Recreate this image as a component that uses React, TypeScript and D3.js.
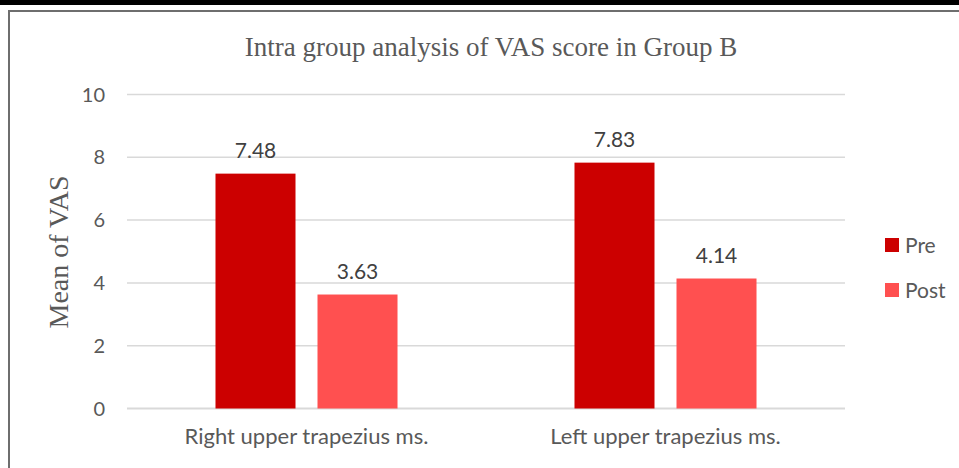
import React, { useEffect, useRef } from 'react';
import * as d3 from 'd3';

const categories = ['Right upper trapezius ms.', 'Left upper trapezius ms.'];
const seriesNames = ['Pre', 'Post'];
const preValues = [7.48, 7.83];
const postValues = [3.63, 4.14];
const yTicks = [0, 2, 4, 6, 8, 10];
const colors = ['#CC0000', '#FF5050'];

const W = 959;
const H = 468;

const App = () => {
  const svgRef = useRef<SVGSVGElement>(null);

  useEffect(() => {
    const svg = d3.select(svgRef.current);
    svg.selectAll('*').remove();

    const left = 127, right = 845, top = 94.5, bottom = 408.5;
    const sans = 'Lato, "Open Sans", sans-serif';
    const serif = '"Liberation Serif", "Times New Roman", serif';

    // page frame: black rule at top, grey chart border
    svg.append('rect').attr('x', 0).attr('y', 0).attr('width', W).attr('height', 5).attr('fill', '#000');
    svg.append('path')
      .attr('d', `M9,${H + 2}V11H${W + 2}`)
      .attr('fill', 'none')
      .attr('stroke', '#6e6e6e')
      .attr('stroke-width', 2);

    const x0 = d3.scaleBand<string>()
      .domain(categories)
      .range([left, right])
      .paddingInner(0.493)
      .paddingOuter(0.2465);

    const x1 = d3.scaleBand<string>()
      .domain(seriesNames)
      .range([0, x0.bandwidth()])
      .paddingInner(0.2157);

    const y = d3.scaleLinear().domain([0, 10]).range([bottom, top]);

    // gridlines
    svg.append('g')
      .selectAll('line')
      .data(yTicks)
      .enter().append('line')
      .attr('x1', left).attr('x2', right)
      .attr('y1', d => y(d)).attr('y2', d => y(d))
      .attr('stroke', '#d9d9d9')
      .attr('stroke-width', d => (d === 0 ? 2 : 1.5));

    svg.append('g')
      .selectAll('text')
      .data(yTicks)
      .enter().append('text')
      .attr('x', 105)
      .attr('y', d => y(d))
      .attr('dy', '0.35em')
      .attr('text-anchor', 'end')
      .attr('font-family', sans)
      .attr('font-size', 20)
      .attr('fill', '#595959')
      .text(d => d);

    const rows = categories.map((c, i) => ({ cat: c, values: [preValues[i], postValues[i]] }));

    const groups = svg.append('g')
      .selectAll('g')
      .data(rows)
      .enter().append('g')
      .attr('transform', d => `translate(${x0(d.cat)},0)`);

    groups.selectAll('rect')
      .data(d => d.values.map((v, j) => ({ name: seriesNames[j], v, j })))
      .enter().append('rect')
      .attr('x', d => x1(d.name)!)
      .attr('width', x1.bandwidth())
      .attr('y', d => y(d.v))
      .attr('height', d => y(0) - y(d.v))
      .attr('fill', d => colors[d.j]);

    groups.selectAll('text')
      .data(d => d.values.map((v, j) => ({ name: seriesNames[j], v, j })))
      .enter().append('text')
      .attr('x', d => x1(d.name)! + x1.bandwidth() / 2)
      .attr('y', d => y(d.v) - 16)
      .attr('text-anchor', 'middle')
      .attr('font-family', sans)
      .attr('font-size', 21)
      .attr('fill', '#404040')
      .text(d => d.v.toFixed(2));

    // category labels
    svg.append('g')
      .selectAll('text')
      .data(categories)
      .enter().append('text')
      .attr('x', d => x0(d)! + x0.bandwidth() / 2)
      .attr('y', 444)
      .attr('text-anchor', 'middle')
      .attr('font-family', sans)
      .attr('font-size', 22)
      .attr('fill', '#595959')
      .text(d => d);

    // title
    svg.append('text')
      .attr('x', 491)
      .attr('y', 56)
      .attr('text-anchor', 'middle')
      .attr('font-family', serif)
      .attr('font-size', 27)
      .attr('fill', '#595959')
      .text('Intra group analysis of VAS score in Group B');

    // y axis title
    svg.append('text')
      .attr('transform', `translate(68,252) rotate(-90)`)
      .attr('text-anchor', 'middle')
      .attr('font-family', serif)
      .attr('font-size', 28)
      .attr('fill', '#595959')
      .text('Mean of VAS');

    // legend
    const legend = svg.append('g')
      .selectAll('g')
      .data(seriesNames)
      .enter().append('g')
      .attr('transform', (d, i) => `translate(885,${238 + i * 45})`);

    legend.append('rect')
      .attr('width', 14).attr('height', 14)
      .attr('fill', (d, i) => colors[i]);

    legend.append('text')
      .attr('x', 20)
      .attr('y', 15)
      .attr('font-family', sans)
      .attr('font-size', 21)
      .attr('fill', '#595959')
      .text(d => d);
  }, []);

  return (
    <svg
      ref={svgRef}
      width={W}
      height={H}
      style={{ position: 'absolute', left: 0, top: 0, background: '#fff' }}
    />
  );
};

export default App;
